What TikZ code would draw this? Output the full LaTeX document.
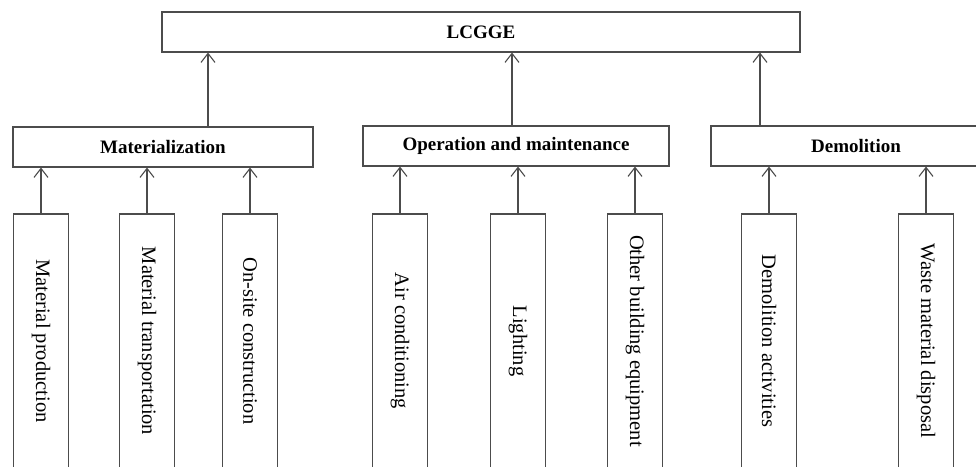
\documentclass[tikz,border=0pt]{standalone}
\usepackage{fontspec}
\setmainfont{Liberation Serif}
\usetikzlibrary{arrows.meta}

\begin{document}
\begin{tikzpicture}[
    x=1pt, y=-1pt,
    >={Straight Barb[length=9pt,width=14pt,line width=1.1pt]},
    line width=1.1pt,
    every node/.style={draw=black!70, inner sep=0pt, font=\fontsize{20.5}{24}\selectfont},
    phase/.style={minimum height=40pt, font=\fontsize{19}{22}\selectfont\bfseries},
    item/.style={minimum width=55pt, minimum height=254pt}
]
\useasboundingbox (0,0) rectangle (976,466);

\node[phase, minimum width=638pt] (top) at (481,32) {LCGGE};

\node[phase, minimum width=300pt] (mat) at (163,147) {Materialization};
\node[phase, minimum width=306pt] (op) at (516,146) {Operation and maintenance};
\node[phase, minimum width=290pt] (dem) at (856,146) {Demolition};

\node[item] (mp) at (41,341) {\rotatebox{-90}{Material production}};
\node[item] (mt) at (147,341) {\rotatebox{-90}{Material transportation}};
\node[item] (oc) at (250,341) {\rotatebox{-90}{On-site construction}};
\node[item] (ac) at (400,341) {\rotatebox{-90}{Air conditioning}};
\node[item] (li) at (518,341) {\rotatebox{-90}{Lighting}};
\node[item] (ob) at (635,341) {\rotatebox{-90}{Other building equipment}};
\node[item] (da) at (769,341) {\rotatebox{-90}{Demolition activities}};
\node[item] (wd) at (926,341) {\rotatebox{-90}{Waste material disposal}};

\coordinate (m1) at (208,127);
\coordinate (o1) at (512,126);
\coordinate (d1) at (760,126);

\begin{scope}[draw=black!70]
\foreach \a/\b in {m1/top, o1/top, d1/top,
                   mp/mat, mt/mat, oc/mat,
                   ac/op, li/op, ob/op,
                   da/dem, wd/dem}
  \draw[->] (\a) -- (\a |- \b.south);
\end{scope}

\end{tikzpicture}
\end{document}
